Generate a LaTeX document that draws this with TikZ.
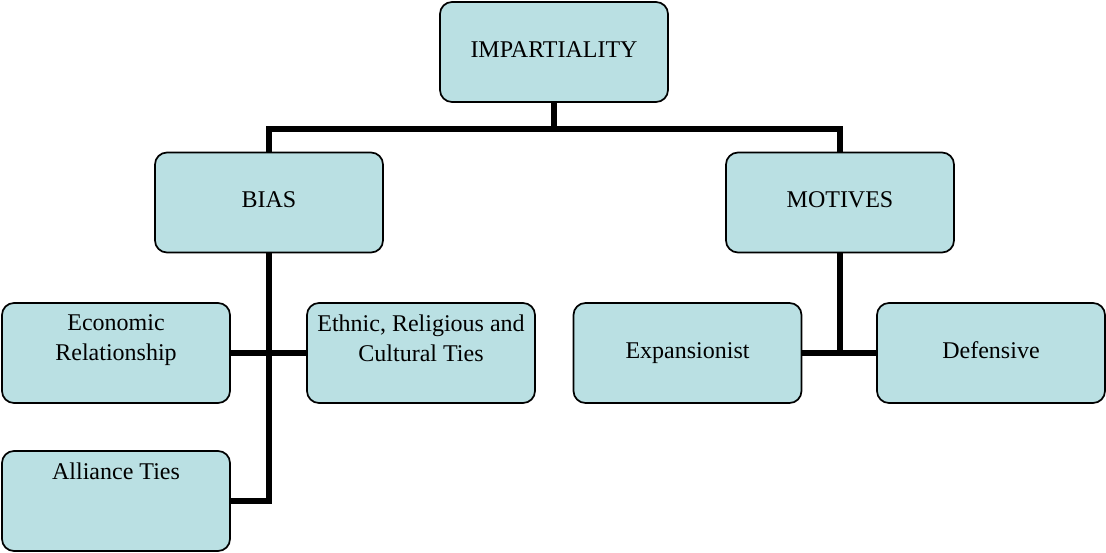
\documentclass[tikz,border=0pt]{standalone}
\usepackage{fontspec}
\setmainfont{Liberation Serif}
\definecolor{boxfill}{RGB}{186,224,227}
\begin{document}
\begin{tikzpicture}[x=1pt,y=-1pt,
	org/.style={draw,line width=1.7pt,fill=boxfill,rounded corners=12pt,minimum width=228pt,minimum height=100pt,inner sep=0pt,align=center,font=\fontsize{24}{30}\selectfont},
	one/.style={org,text height=16pt,text depth=5pt},
	link/.style={line width=5.5pt,line join=miter}]
		\useasboundingbox (0,0) rectangle (1106,553);
		\node[one] (imp) at (554,52) {IMPARTIALITY};
		\node[one] (bias) at (269,202.5) {BIAS};
		\node[one] (motives) at (840,202.5) {MOTIVES};
		\node[org] (econ) at (116,353) {Economic\\Relationship\\\mbox{}};
		\node[org] (ethnic) at (421,353) {Ethnic, Religious and\\Cultural Ties\\\mbox{}};
		\node[org] (alliance) at (116,501) {Alliance Ties\\\mbox{}\\\mbox{}};
		\node[one] (expan) at (687.5,353) {Expansionist};
		\node[one] (def) at (991,353) {Defensive};
		\draw[link] (imp.south) -- ++(0,26) coordinate (bus);
		\draw[link] (bias.north) |- (bus) -| (motives.north);
		\draw[link] (bias.south) |- (alliance.east);
		\draw[link] (econ.east) -- (ethnic.west);
		\draw[link] (motives.south) -- (motives.south |- def.west);
		\draw[link] (expan.east) -- (def.west);
		
	\end{tikzpicture}
\end{document}
